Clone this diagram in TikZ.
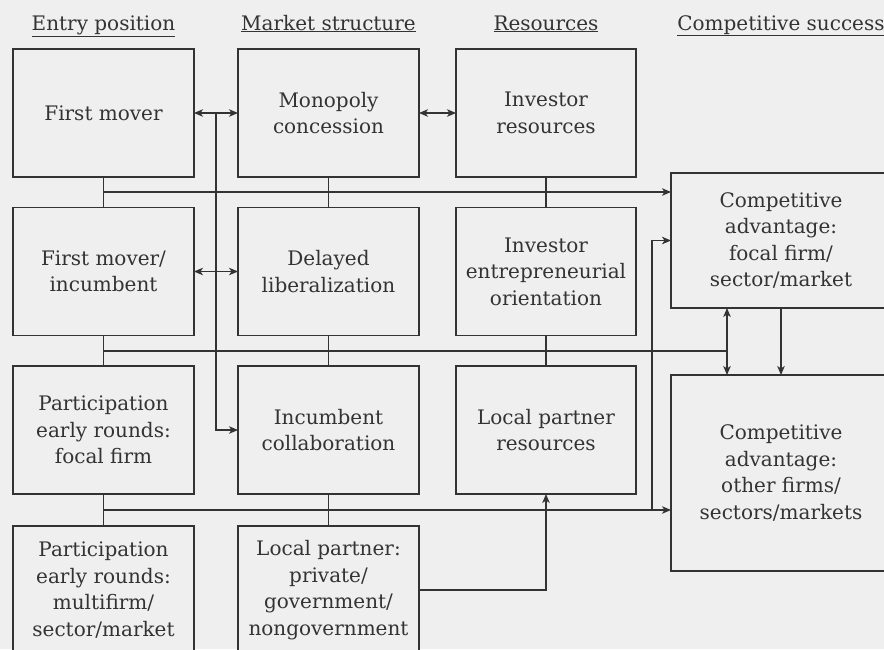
\documentclass[tikz,border=0pt]{standalone}
\usepackage{fontspec}
\setmainfont{DejaVu Serif}
\usetikzlibrary{arrows.meta}
\definecolor{paper}{HTML}{EFEFEF}
\definecolor{ink}{HTML}{333333}
\newcommand\boxfont{\fontsize{20}{26.5}\selectfont}
\tikzset{
  box/.style={draw=ink, fill=paper, line width=1.2pt, inner sep=0pt, outer sep=0pt,
    minimum width=181pt, minimum height=128pt, align=center, text=ink, font=\boxfont},
  head/.style={text=ink, font=\boxfont, inner sep=0pt, anchor=base},
  link/.style={draw=ink, line width=1.1pt},
  tip/.style={Stealth[length=9pt,width=7.5pt,inset=2.5pt]},
  arr/.style={link, -{Stealth[length=9pt,width=7.5pt,inset=2.5pt]}},
  darr/.style={link, {Stealth[length=9pt,width=7.5pt,inset=2.5pt]}-{Stealth[length=9pt,width=7.5pt,inset=2.5pt]}}
}
\begin{document}
\begin{tikzpicture}[x=1pt,y=-1pt]
	\fill [paper] (0,0) rectangle (884,649);
	\useasboundingbox (0,0) rectangle (884,649);
	\clip (0,0) rectangle (884,649);
	% column headings
	\foreach \n/\x/\t in {hentry/103.5/Entry position, hmarket/328.5/Market structure, hres/546/Resources, hcomp/781/Competitive success}
		\node [head] (\n) at (\x,30) {\underline{\t}};
	% entry position
	\node [box] (fm) at (103.5,113) {First mover};
	\node [box] (fmi) at (103.5,271.5) {First mover/\\incumbent};
	\node [box] (pef) at (103.5,430) {Participation\\early rounds:\\focal firm};
	\node [box] (pem) at (103.5,590) {Participation\\early rounds:\\multifirm/\\sector/market};
	% market structure
	\node [box] (mon) at (328.5,113) {Monopoly\\concession};
	\node [box] (del) at (328.5,271.5) {Delayed\\liberalization};
	\node [box] (inc) at (328.5,430) {Incumbent\\collaboration};
	\node [box] (lp) at (328.5,590) {Local partner:\\private/\\government/\\nongovernment};
	% resources
	\node [box, minimum width=180pt] (ir) at (546,113) {Investor\\resources};
	\node [box, minimum width=180pt] (ieo) at (546,271.5) {Investor\\entrepreneurial\\orientation};
	\node [box, minimum width=180pt] (lpr) at (546,430) {Local partner\\resources};
	% competitive success
	\node [box, minimum width=220pt, minimum height=135pt] (cafm) at (781,240.5) {Competitive\\advantage:\\focal firm/\\sector/market};
	\node [box, minimum width=220pt, minimum height=196pt] (caof) at (781,473) {Competitive\\advantage:\\other firms/\\sectors/markets};
	% buses
	\coordinate (b1) at (0,192);
	\coordinate (b2) at (727,351);
	\coordinate (b3) at (0,510);
	\coordinate (v1) at (216,113);
	\coordinate (v2) at (652,510);
	\foreach \a/\b in {fm/fmi, fmi/pef, pef/pem, mon/del, del/inc, inc/lp, ir/ieo, ieo/lpr}
		\draw [link] (\a) -- (\b);
	\draw [arr] (fm.south |- b1) -- (b1 -| cafm.west);
	\draw [link] (fmi.south |- b2) -- (b2);
	\draw [darr] (cafm.south -| b2) -- (caof.north -| b2);
	\draw [arr] (cafm.south) -- (caof.north);
	\draw [arr] (pef.south |- b3) -- (b3 -| caof.west);
	\draw [arr] (v2) |- (cafm.west);
	\foreach \a/\b in {fm/mon, mon/ir, fmi/del}
		\draw [darr] (\a.east) -- (\b.west);
	\draw [arr] (v1) |- (inc.west);
	\draw [arr] (lp.east) -| (lpr.south);
\end{tikzpicture}
\end{document}
